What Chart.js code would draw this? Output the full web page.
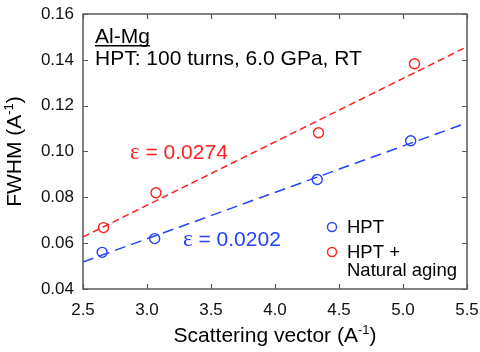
<!DOCTYPE html>
<html>
<head>
<meta charset="utf-8">
<script src="https://cdn.jsdelivr.net/npm/chart.js@4"></script>
<style>
  html, body { margin: 0; padding: 0; background: #fff; }
  #wrap { width: 480px; height: 352px; }
</style>
</head>
<body>
<div id="wrap"><canvas id="c" width="480" height="352"></canvas></div>
<script>
// ---- data ----
const hptQ = [2.65, 3.06, 4.33, 5.06];
const hptFwhm = [0.0560, 0.0620, 0.0878, 0.1047];
const agedQ = [2.66, 3.07, 4.34, 5.09];
const agedFwhm = [0.0668, 0.0820, 0.1082, 0.1383];
const fitQ = [2.5, 5.5];
const hptFit = [0.0518, 0.1125];
const agedFit = [0.0627, 0.1457];
const xTicks = [2.5, 3.0, 3.5, 4.0, 4.5, 5.0, 5.5];
const yTicks = [0.04, 0.06, 0.08, 0.10, 0.12, 0.14, 0.16];

const RED = '#ff1f1f';
const BLUE = '#2343f5';
const SANS = "'Liberation Sans', Arial, sans-serif";
const SERIF = "'Liberation Serif', 'Times New Roman', serif";

const pts = (xs, ys) => xs.map((x, i) => ({ x, y: ys[i] }));

// draw a run of [text, size, dy, font] pieces; returns width
function runWidth(ctx, parts) {
  let w = 0;
  parts.forEach(p => { ctx.font = p[1] + 'px ' + (p[3] || SANS); w += ctx.measureText(p[0]).width; });
  return w;
}
function drawRun(ctx, parts, x, y) {
  parts.forEach(p => {
    ctx.font = p[1] + 'px ' + (p[3] || SANS);
    ctx.fillText(p[0], x, y - (p[2] || 0));
    x += ctx.measureText(p[0]).width;
  });
  return x;
}

const decor = {
  id: 'decor',
  afterDraw(chart) {
    const { ctx, chartArea: a, scales: { x, y } } = chart;
    ctx.save();
    // frame + inward ticks on all four sides
    ctx.strokeStyle = '#5a5a5a';
    ctx.lineWidth = 1.5;
    ctx.strokeRect(a.left, a.top, a.right - a.left, a.bottom - a.top);
    ctx.lineWidth = 1.2;
    ctx.beginPath();
    xTicks.forEach(v => {
      const px = Math.round(x.getPixelForValue(v)) + 0.5;
      ctx.moveTo(px, a.bottom); ctx.lineTo(px, a.bottom - 5);
      ctx.moveTo(px, a.top); ctx.lineTo(px, a.top + 5);
    });
    yTicks.forEach(v => {
      const py = Math.round(y.getPixelForValue(v)) + 0.5;
      ctx.moveTo(a.left, py); ctx.lineTo(a.left + 5, py);
      ctx.moveTo(a.right, py); ctx.lineTo(a.right - 5, py);
    });
    ctx.stroke();

    ctx.textBaseline = 'alphabetic';
    ctx.textAlign = 'left';

    // annotation top-left
    ctx.fillStyle = '#000';
    ctx.font = '21px ' + SANS;
    ctx.fillText('Al-Mg', 95, 43);
    const w = ctx.measureText('Al-Mg').width;
    ctx.fillRect(95, 45, w, 1.5);
    ctx.fillText('HPT: 100 turns, 6.0 GPa, RT', 95, 65);

    // strain labels
    ctx.fillStyle = RED;
    drawRun(ctx, [['\u03b5', 23, 0, SERIF], [' = 0.0274', 21]], 130, 159);
    ctx.fillStyle = BLUE;
    drawRun(ctx, [['\u03b5', 23, 0, SERIF], [' = 0.0202', 21]], 183, 246);

    // legend
    const ds = chart.data.datasets;
    [[ds[0], 227], [ds[1], 252]].forEach(([d, yy]) => {
      ctx.strokeStyle = d.borderColor;
      ctx.lineWidth = 1.4;
      ctx.beginPath();
      ctx.arc(332, yy, 4.5, 0, Math.PI * 2);
      ctx.stroke();
    });
    ctx.fillStyle = '#000';
    ctx.font = '18.5px ' + SANS;
    ctx.fillText('HPT', 347, 233);
    ctx.fillText('HPT +', 347, 258);
    ctx.fillText('Natural aging', 347, 276);

    // axis titles
    const xt = [['Scattering vector (A', 21], ['-1', 13, 8], [')', 21]];
    const xw = runWidth(ctx, xt);
    drawRun(ctx, xt, (a.left + a.right) / 2 - xw / 2, 342);

    const yt = [['FWHM (A', 21], ['-1', 13, 8], [')', 21]];
    const yw = runWidth(ctx, yt);
    ctx.translate(21, (a.top + a.bottom) / 2);
    ctx.rotate(-Math.PI / 2);
    drawRun(ctx, yt, -yw / 2, 0);
    ctx.restore();
  }
};

new Chart(document.getElementById('c'), {
  type: 'scatter',
  data: {
    datasets: [
      {
        label: 'HPT',
        data: pts(hptQ, hptFwhm),
        borderColor: BLUE,
        backgroundColor: 'transparent',
        pointRadius: 5,
        pointBorderWidth: 1.4
      },
      {
        label: 'HPT + Natural aging',
        data: pts(agedQ, agedFwhm),
        borderColor: RED,
        backgroundColor: 'transparent',
        pointRadius: 5,
        pointBorderWidth: 1.4
      },
      {
        type: 'line',
        data: pts(fitQ, hptFit),
        borderColor: BLUE,
        borderWidth: 1.5,
        borderDash: [11, 6],
        pointRadius: 0,
        fill: false
      },
      {
        type: 'line',
        data: pts(fitQ, agedFit),
        borderColor: RED,
        borderWidth: 1.5,
        borderDash: [7, 4],
        pointRadius: 0,
        fill: false
      }
    ]
  },
  options: {
    responsive: false,
    animation: false,
    events: [],
    layout: { padding: { top: 14, right: 13, left: 0, bottom: 0 } },
    plugins: { legend: { display: false }, tooltip: { enabled: false } },
    scales: {
      x: {
        type: 'linear',
        min: 2.5, max: 5.5,
        afterFit: s => { s.height = 63; s.paddingLeft = 0; s.paddingRight = 0; },
        afterBuildTicks: s => { s.ticks = xTicks.map(v => ({ value: v })); },
        grid: { display: false, drawTicks: false },
        border: { display: false },
        ticks: {
          padding: 11,
          color: '#111',
          font: { family: SANS, size: 17 },
          callback: v => v.toFixed(1)
        }
      },
      y: {
        type: 'linear',
        min: 0.04, max: 0.16,
        afterFit: s => { s.width = 83; s.paddingTop = 0; s.paddingBottom = 0; },
        afterBuildTicks: s => { s.ticks = yTicks.map(v => ({ value: v })); },
        grid: { display: false, drawTicks: false },
        border: { display: false },
        ticks: {
          padding: 9,
          color: '#111',
          font: { family: SANS, size: 17 },
          callback: v => v.toFixed(2)
        }
      }
    }
  },
  plugins: [decor]
});
</script>
</body>
</html>
